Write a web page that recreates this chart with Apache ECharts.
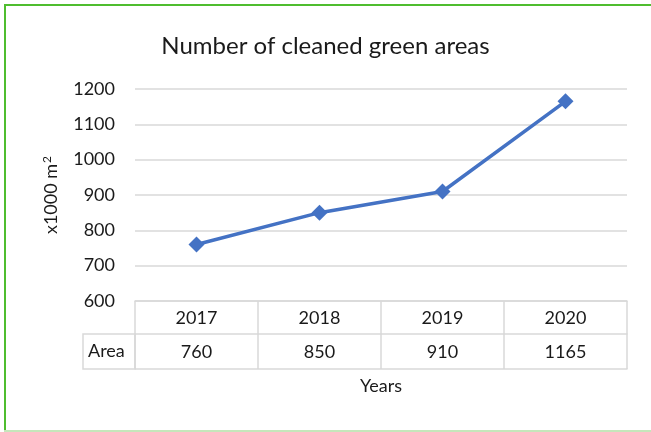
<!DOCTYPE html>
<html>
<head>
<meta charset="utf-8">
<script src="https://cdn.jsdelivr.net/npm/echarts@6/dist/echarts.min.js"></script>
<style>
  html, body { margin: 0; padding: 0; background: #fff; }
  #chart { width: 651px; height: 432px; }
</style>
</head>
<body>
<div id="chart"></div>
<script>
const years = ['2017', '2018', '2019', '2020'];
const areaValues = [760, 850, 910, 1165];
const yMin = 600;
const yMax = 1200;
const yStep = 100;

const font = 'Lato, "Open Sans", sans-serif';
const textColor = '#1a1a1a';
const gridLine = '#d9d9d9';

const chart = echarts.init(document.getElementById('chart'));

const option = {
  animation: false,
  title: {
    text: 'Number of cleaned green areas',
    left: 'center',
    top: 29,
    textStyle: { fontFamily: font, fontSize: 24, fontWeight: 'normal', color: textColor }
  },
  grid: { left: 135, right: 24, top: 89, bottom: 131 },
  xAxis: [
    {
      type: 'category',
      data: years,
      position: 'bottom',
      boundaryGap: true,
      axisLine: { show: true, lineStyle: { color: gridLine, width: 1.5 } },
      axisTick: { show: true, length: 68, lineStyle: { color: gridLine, width: 1.5 } },
      axisLabel: { margin: 8, fontFamily: font, fontSize: 18, color: textColor }
    },
    {
      type: 'category',
      data: areaValues,
      position: 'bottom',
      offset: 33,
      boundaryGap: true,
      axisLine: { show: true, lineStyle: { color: gridLine, width: 1.5 } },
      axisTick: { show: false },
      axisLabel: { margin: 9, fontFamily: font, fontSize: 18, color: textColor }
    },
    {
      type: 'category',
      data: years,
      position: 'bottom',
      offset: 68,
      boundaryGap: true,
      axisLine: { show: true, lineStyle: { color: gridLine, width: 1.5 } },
      axisTick: { show: false },
      axisLabel: { show: false },
      name: 'Years',
      nameLocation: 'middle',
      nameGap: 8,
      nameTextStyle: { fontFamily: font, fontSize: 18, color: textColor, verticalAlign: 'top' }
    }
  ],
  yAxis: {
    type: 'value',
    min: yMin,
    max: yMax,
    interval: yStep,
    name: 'x1000 m{sup|2}',
    nameLocation: 'middle',
    nameGap: 74,
    nameTextStyle: {
      fontFamily: font,
      fontSize: 18,
      color: textColor,
      rich: {
        sup: { fontFamily: font, fontSize: 12, color: textColor, verticalAlign: 'top', padding: [0, 0, 8, 1] }
      }
    },
    axisLine: { show: false },
    axisTick: { show: false },
    axisLabel: {
      margin: 20,
      fontFamily: font,
      fontSize: 18,
      color: textColor,
      formatter: (v) => String(v)
    },
    splitLine: { lineStyle: { color: gridLine, width: 1.5 } }
  },
  graphic: [
    {
      type: 'rect',
      shape: { x: 83, y: 334, width: 52, height: 35 },
      style: { fill: 'none', stroke: gridLine, lineWidth: 1.5 }
    },
    {
      type: 'text',
      left: 88,
      top: 342,
      style: { text: 'Area', fontFamily: font, fontSize: 18, fill: textColor }
    },
    {
      type: 'line',
      shape: { x1: 4, y1: 5, x2: 651, y2: 5 },
      style: { stroke: '#4fbd2f', lineWidth: 2 }
    },
    {
      type: 'line',
      shape: { x1: 5, y1: 4, x2: 5, y2: 432 },
      style: { stroke: '#4fbd2f', lineWidth: 2 }
    },
    {
      type: 'line',
      shape: { x1: 4, y1: 431, x2: 651, y2: 431 },
      style: { stroke: '#c6e6bb', lineWidth: 2 }
    }
  ],
  series: [
    {
      name: 'Area',
      type: 'line',
      xAxisIndex: 0,
      data: areaValues,
      symbol: 'diamond',
      symbolSize: 16,
      lineStyle: { color: '#4472C4', width: 3.5 },
      itemStyle: { color: '#4472C4' }
    }
  ]
};

chart.setOption(option);
</script>
</body>
</html>
